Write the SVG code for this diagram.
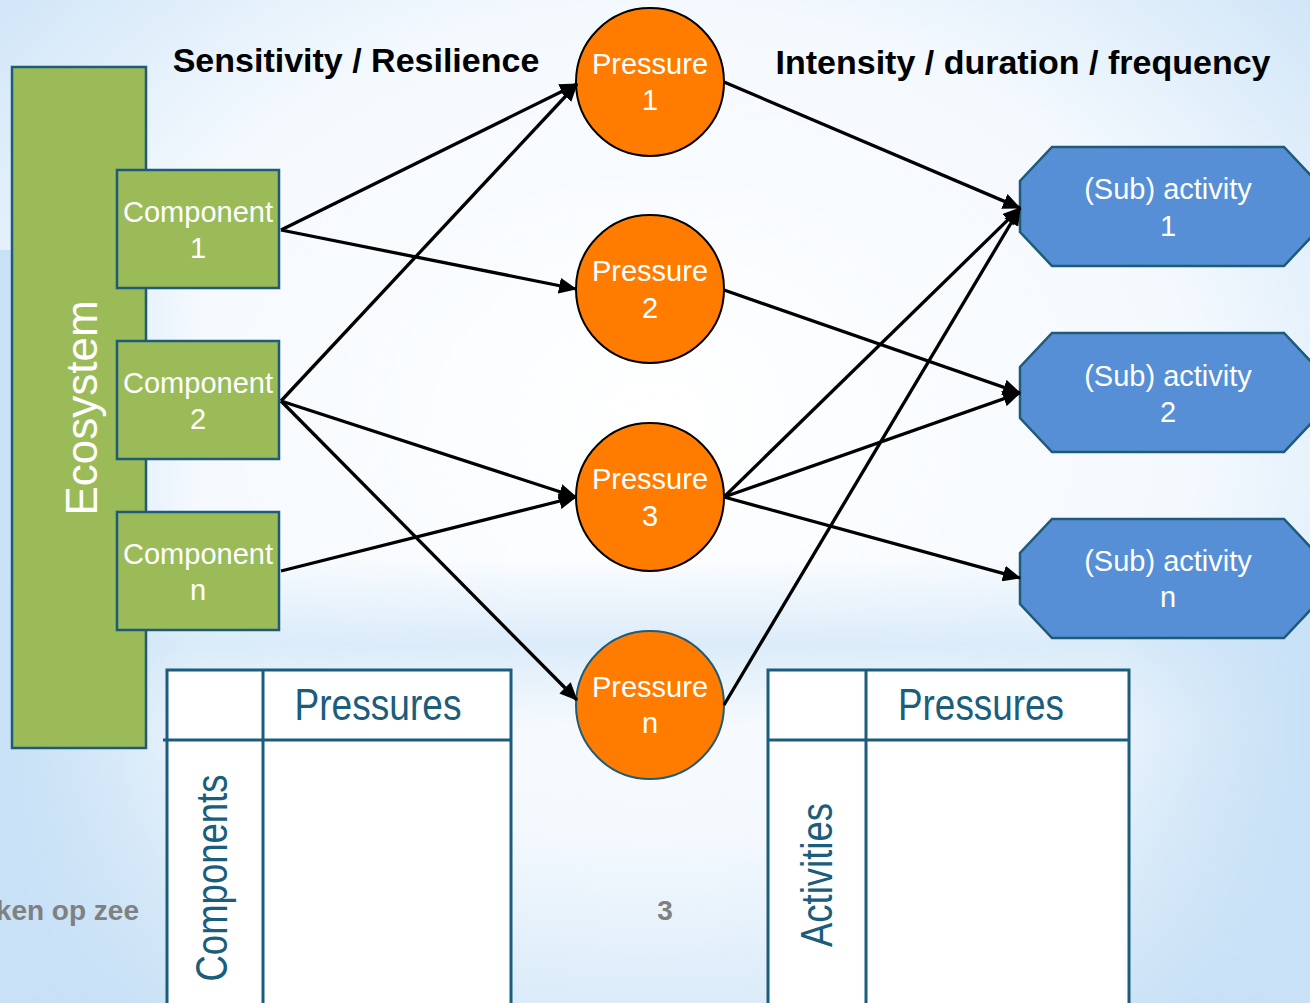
<svg xmlns="http://www.w3.org/2000/svg" width="1310" height="1003" viewBox="0 0 1310 1003">
<defs>
<style>
.eco{fill:#9bbb59;stroke:#1f5a78;stroke-width:2.5}
.comp{fill:#9bbb59;stroke:#1f5a78;stroke-width:2.5}
.pres{fill:#ff7c00;stroke:#000;stroke-width:2}
.act{fill:#568fd6;stroke:#1f5a78;stroke-width:2.5}
.tbl{fill:#fff;stroke:#1a5d7c;stroke-width:3}
.tline{stroke:#1a5d7c;stroke-width:3;fill:none}
.wt{font-family:"Liberation Sans",Arial,sans-serif;fill:#fff;font-size:29px;text-anchor:middle}
.title{font-family:"Liberation Sans",Arial,sans-serif;font-weight:bold;fill:#000;font-size:34px;text-anchor:middle}
.th{font-family:"Liberation Sans",Arial,sans-serif;fill:#1a5d7c;font-size:44px;text-anchor:middle}
.foot{font-family:"Liberation Sans",Arial,sans-serif;font-weight:bold;fill:#808080;font-size:28px}
.conn line{stroke:#000;stroke-width:3.3;marker-end:url(#arr)}
</style>
<marker id="arr" markerUnits="userSpaceOnUse" markerWidth="20" markerHeight="16" refX="17" refY="8" orient="auto">
<path d="M0,0 L18,8 L0,16 z" fill="#000"/>
</marker>
<radialGradient id="bg" cx="0.5" cy="0.42" r="0.75">
<stop offset="0" stop-color="#ffffff"/>
<stop offset="0.55" stop-color="#f4f9fe"/>
<stop offset="1" stop-color="#c3def5"/>
</radialGradient>
<linearGradient id="band" x1="0" y1="0" x2="0" y2="1">
<stop offset="0" stop-color="#cfe5f7" stop-opacity="0"/>
<stop offset="0.5" stop-color="#cfe5f7" stop-opacity="0.7"/>
<stop offset="1" stop-color="#cfe5f7" stop-opacity="0"/>
</linearGradient>
<linearGradient id="left" x1="0" y1="0" x2="1" y2="0">
<stop offset="0" stop-color="#c8e1f6"/>
<stop offset="1" stop-color="#c8e1f6" stop-opacity="0"/>
</linearGradient>
<linearGradient id="right" x1="1" y1="0" x2="0" y2="0">
<stop offset="0" stop-color="#c8e1f6"/>
<stop offset="1" stop-color="#c8e1f6" stop-opacity="0"/>
</linearGradient>
</defs>

<g id="background">
<rect x="0" y="0" width="1310" height="1003" fill="url(#bg)"/>
<rect x="0" y="560" width="1310" height="170" fill="url(#band)"/>
<rect x="0" y="250" width="200" height="753" fill="url(#left)"/>
<rect x="1110" y="560" width="200" height="443" fill="url(#right)"/>
</g>

<g id="titles">
<text class="title" x="356" y="72">Sensitivity / Resilience</text>
<text class="title" x="1023" y="74">Intensity / duration / frequency</text>
</g>

<g id="ecosystem">
<rect class="eco" x="12" y="67" width="134" height="681"/>
<text class="wt" style="font-size:44px" transform="translate(97,408) rotate(-90)">Ecosystem</text>
</g>

<g id="component-1">
<rect class="comp" x="117" y="170" width="162" height="118"/>
<text class="wt" x="198" y="222">Component</text>
<text class="wt" x="198" y="258">1</text>
</g>
<g id="component-2">
<rect class="comp" x="117" y="341" width="162" height="118"/>
<text class="wt" x="198" y="393">Component</text>
<text class="wt" x="198" y="429">2</text>
</g>
<g id="component-n">
<rect class="comp" x="117" y="512" width="162" height="118"/>
<text class="wt" x="198" y="564">Component</text>
<text class="wt" x="198" y="600">n</text>
</g>

<g id="table-components">
<rect class="tbl" x="167" y="670" width="344" height="345"/>
<line class="tline" x1="163" y1="740" x2="511" y2="740"/>
<line class="tline" x1="263" y1="670" x2="263" y2="1003"/>
<text class="th" x="378" y="720" textLength="167" lengthAdjust="spacingAndGlyphs">Pressures</text>
<text class="th" transform="translate(227,878) rotate(-90)" textLength="207" lengthAdjust="spacingAndGlyphs">Components</text>
</g>

<g id="table-activities">
<rect class="tbl" x="768" y="670" width="361" height="345"/>
<line class="tline" x1="768" y1="740" x2="1129" y2="740"/>
<line class="tline" x1="866" y1="670" x2="866" y2="1003"/>
<text class="th" x="981" y="720" textLength="166" lengthAdjust="spacingAndGlyphs">Pressures</text>
<text class="th" transform="translate(832,875) rotate(-90)" textLength="144" lengthAdjust="spacingAndGlyphs">Activities</text>
</g>

<g id="pressure-1">
<circle class="pres" cx="650" cy="82" r="74"/>
<text class="wt" x="650" y="74">Pressure</text>
<text class="wt" x="650" y="110">1</text>
</g>
<g id="pressure-2">
<circle class="pres" cx="650" cy="289" r="74"/>
<text class="wt" x="650" y="281">Pressure</text>
<text class="wt" x="650" y="318">2</text>
</g>
<g id="pressure-3">
<circle class="pres" cx="650" cy="497" r="74"/>
<text class="wt" x="650" y="489">Pressure</text>
<text class="wt" x="650" y="526">3</text>
</g>
<g id="pressure-n">
<circle class="pres" cx="650" cy="705" r="74" style="stroke:#1f5a78"/>
<text class="wt" x="650" y="697">Pressure</text>
<text class="wt" x="650" y="733">n</text>
</g>

<g id="activity-1">
<polygon class="act" points="1052,147 1284,147 1316,181 1316,232 1284,266 1052,266 1020,232 1020,181"/>
<text class="wt" x="1168" y="199">(Sub) activity</text>
<text class="wt" x="1168" y="236">1</text>
</g>
<g id="activity-2">
<polygon class="act" points="1052,333 1284,333 1316,367 1316,418 1284,452 1052,452 1020,418 1020,367"/>
<text class="wt" x="1168" y="386">(Sub) activity</text>
<text class="wt" x="1168" y="422">2</text>
</g>
<g id="activity-n">
<polygon class="act" points="1052,519 1284,519 1316,553 1316,604 1284,638 1052,638 1020,604 1020,553"/>
<text class="wt" x="1168" y="571">(Sub) activity</text>
<text class="wt" x="1168" y="607">n</text>
</g>

<g id="connectors" class="conn">
<line x1="281" y1="230" x2="577" y2="84"/>
<line x1="281" y1="230" x2="576" y2="289"/>
<line x1="281" y1="401" x2="577" y2="84"/>
<line x1="281" y1="401" x2="576" y2="497"/>
<line x1="281" y1="401" x2="577" y2="700"/>
<line x1="281" y1="571" x2="576" y2="497"/>
<line x1="724" y1="82" x2="1020" y2="208"/>
<line x1="724" y1="290" x2="1020" y2="393"/>
<line x1="724" y1="497" x2="1020" y2="208"/>
<line x1="724" y1="497" x2="1020" y2="393"/>
<line x1="724" y1="497" x2="1020" y2="578"/>
<line x1="724" y1="705" x2="1020" y2="208"/>
</g>

<g id="footer">
<text class="foot" x="139" y="920" text-anchor="end">ken op zee</text>
<text class="foot" x="665" y="920" text-anchor="middle">3</text>
</g>
</svg>
